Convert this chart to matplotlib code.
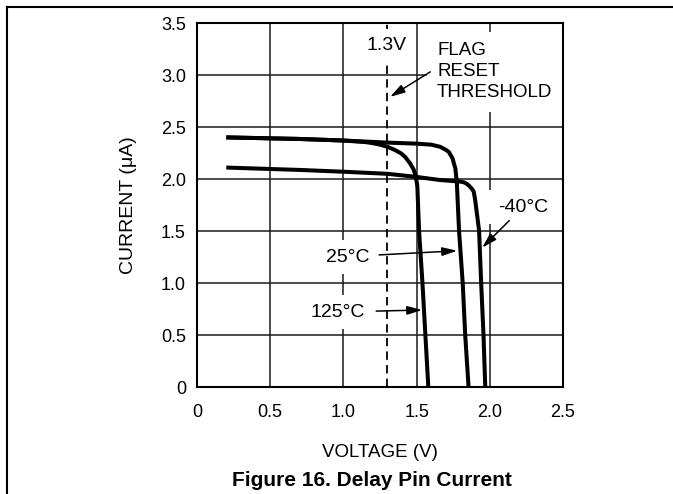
import matplotlib
matplotlib.use("Agg")
import matplotlib.pyplot as plt
from matplotlib.lines import Line2D

plt.rcParams['font.family'] = ['Liberation Sans', 'DejaVu Sans']
plt.rcParams['lines.scale_dashes'] = False

# ---- data ----
v_125 = [0.2, 0.7, 1.0, 1.1, 1.15, 1.2, 1.25, 1.3, 1.35, 1.39, 1.42, 1.456, 1.48, 1.495, 1.505, 1.517, 1.54, 1.56, 1.58]
i_125 = [2.40, 2.385, 2.37, 2.36, 2.355, 2.345, 2.33, 2.31, 2.28, 2.25, 2.215, 2.15, 2.09, 2.02, 1.93, 1.5, 1.0, 0.5, 0.0]

v_25 = [0.2, 0.7, 1.0, 1.3, 1.5, 1.6, 1.66, 1.70, 1.72, 1.745, 1.765, 1.775, 1.79, 1.815, 1.832, 1.855]
i_25 = [2.40, 2.385, 2.37, 2.35, 2.34, 2.33, 2.31, 2.28, 2.26, 2.20, 2.10, 1.96, 1.5, 1.0, 0.5, 0.0]

v_m40 = [0.2, 0.704, 1.0, 1.3, 1.5, 1.66, 1.8, 1.83, 1.855, 1.875, 1.89, 1.90, 1.927, 1.941, 1.957, 1.969]
i_m40 = [2.11, 2.087, 2.07, 2.05, 2.02, 1.99, 1.975, 1.965, 1.94, 1.91, 1.88, 1.80, 1.5, 1.0, 0.5, 0.0]

x_ticks = [0, 0.5, 1.0, 1.5, 2.0, 2.5]
x_tick_labels = ['0', '0.5', '1.0', '1.5', '2.0', '2.5']
y_ticks = [0, 0.5, 1.0, 1.5, 2.0, 2.5, 3.0, 3.5]
y_tick_labels = ['0', '0.5', '1.0', '1.5', '2.0', '2.5', '3.0', '3.5']
threshold_v = 1.3

fig = plt.figure(figsize=(6.73, 4.94), dpi=100)
ax = fig.add_axes([197/673, 1-387/494, (563-197)/673, (387-23)/494])
ax.set_xlim(0, 2.5)
ax.set_ylim(0, 3.5)
ax.set_xticks(x_ticks)
ax.set_xticklabels(x_tick_labels)
ax.set_yticks(y_ticks)
ax.set_yticklabels(y_tick_labels)
ax.tick_params(length=0, labelsize=13)
ax.tick_params(axis='y', pad=8)
ax.tick_params(axis='x', pad=12)
ax.grid(True, color='#1a1a1a', lw=1.1, zorder=1)
ax.set_axisbelow(True)
for s in ax.spines.values():
    s.set_linewidth(1.5)
    s.set_zorder(6)

ax.axvline(threshold_v, color='black', lw=1.3, ls=(0, (6, 3.8)), zorder=2)

curve_kw = dict(color='black', lw=2.9, solid_joinstyle='round', solid_capstyle='butt', zorder=3)
ax.plot(v_125, i_125, **curve_kw)
ax.plot(v_25, i_25, **curve_kw)
ax.plot(v_m40, i_m40, **curve_kw)

box = dict(boxstyle='square,pad=0.45', fc='white', ec='none')
tfs = 14
ax.text(1.295, 3.28, '1.3V', ha='center', va='center', fontsize=tfs, bbox=box, zorder=4)
ax.text(1.64, 3.03, 'FLAG\nRESET\nTHRESHOLD', ha='left', va='center', fontsize=13.5,
        linespacing=1.3, bbox=dict(boxstyle='square,pad=0.55', fc='white', ec='none'), zorder=4)
ax.text(2.225, 1.73, '-40°C', ha='center', va='center', fontsize=tfs, bbox=box, zorder=4)
ax.text(1.03, 1.25, '25°C', ha='center', va='center', fontsize=tfs, bbox=box, zorder=4)
ax.text(0.96, 0.72, '125°C', ha='center', va='center', fontsize=tfs, bbox=box, zorder=4)

aprops = dict(arrowstyle='-|>,head_length=0.45,head_width=0.13', color='black', lw=1.1,
              mutation_scale=20, shrinkA=0, shrinkB=0)
ax.annotate('', xy=(1.319, 2.79), xytext=(1.593, 3.03), arrowprops=aprops, zorder=5)
ax.annotate('', xy=(1.948, 1.34), xytext=(2.133, 1.60), arrowprops=aprops, zorder=5)
ax.annotate('', xy=(1.777, 1.31), xytext=(1.244, 1.27), arrowprops=aprops, zorder=5)
ax.annotate('', xy=(1.538, 0.74), xytext=(1.224, 0.73), arrowprops=aprops, zorder=5)

ax.set_xlabel('VOLTAGE (V)', fontsize=13.5)
ax.xaxis.set_label_coords(0.5, -(452-387)/364)
ax.set_ylabel('CURRENT (μA)', fontsize=14)
ax.yaxis.set_label_coords(-(197-128)/366, 0.5)
ax.xaxis.label.set_va('center')
ax.yaxis.label.set_va('center')

fig.text(372/673, 1-480/494, 'Figure 16. Delay Pin Current', ha='center', va='center',
         fontsize=15, fontweight='bold')

# page frame lines
fig.add_artist(Line2D([7/673, 1.0], [1-7/494, 1-7/494], color='black', lw=1.5, transform=fig.transFigure))
fig.add_artist(Line2D([7/673, 7/673], [1-7/494, 0.0], color='black', lw=1.5, transform=fig.transFigure))

fig.savefig('out.png', dpi=100)
